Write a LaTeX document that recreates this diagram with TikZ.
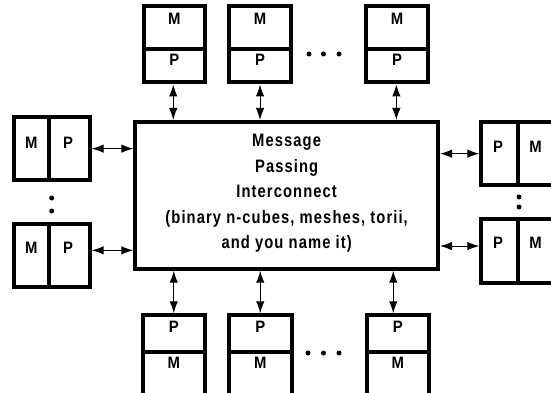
\documentclass[tikz,border=0pt]{standalone}
\usepackage{fontspec}
\newfontfamily\diagfont{Liberation Sans}[FakeStretch=0.82,LetterSpace=6]
\newfontfamily\boxfont{Liberation Sans}[FakeStretch=0.9]
\usetikzlibrary{arrows.meta}
\begin{document}
\begin{tikzpicture}[x=1pt,y=-1pt,
  sec/.style={draw, line width=4pt, inner sep=0pt},
  lbl/.style={anchor=base, inner sep=0pt, font=\boxfont\bfseries\fontsize{16.5}{18}\selectfont},
  bigtxt/.style={align=center, inner sep=0pt, font=\diagfont\bfseries\fontsize{18}{25.5}\selectfont},
  conn/.style={line width=1.1pt, {Latex[length=12pt,width=8.5pt]}-{Latex[length=12pt,width=8.5pt]}},
  dot/.style={fill=black}]
\useasboundingbox (0,0) rectangle (551,393);
\clip (0,0) rectangle (551,393);

% central interconnect
\node[sec, minimum width=302.7, minimum height=146.7] (cb) at (286.65,195.35) {};
\node[bigtxt] (cbt) at (286.65,193.4) {Message\\Passing\\Interconnect\\(binary n-cubes, meshes, torii,\\and you name it)};

% top boxes
\node[sec, minimum width=61.5, minimum height=43] (t1m) at (174.25,27.5) {};
\node[sec, minimum width=61.5, minimum height=33.5] (t1p) at (174.25,65.75) {};
\node[sec, minimum width=61.5, minimum height=43] (t2m) at (260.05,27.5) {};
\node[sec, minimum width=61.5, minimum height=33.5] (t2p) at (260.05,65.75) {};
\node[sec, minimum width=61.5, minimum height=43] (t3m) at (397.05,27.5) {};
\node[sec, minimum width=61.5, minimum height=33.5] (t3p) at (397.05,65.75) {};
\node[lbl] (t1mt) at (174.25,25) {M};
\node[lbl] (t1pt) at (174.25,66) {P};
\node[lbl] (t2mt) at (260.05,25) {M};
\node[lbl] (t2pt) at (260.05,66) {P};
\node[lbl] (t3mt) at (397.05,25) {M};
\node[lbl] (t3pt) at (397.05,66) {P};

% bottom boxes
\node[sec, minimum width=62.5, minimum height=36.4] (b1p) at (173.75,333.5) {};
\node[sec, minimum width=62.5, minimum height=43] (b1m) at (173.75,373.2) {};
\node[sec, minimum width=62.5, minimum height=36.4] (b2p) at (260.25,333.5) {};
\node[sec, minimum width=62.5, minimum height=43] (b2m) at (260.25,373.2) {};
\node[sec, minimum width=62.5, minimum height=36.4] (b3p) at (397.75,333.5) {};
\node[sec, minimum width=62.5, minimum height=43] (b3m) at (397.75,373.2) {};
\node[lbl] (b1pt) at (173.75,332.2) {P};
\node[lbl] (b1mt) at (173.75,368.8) {M};
\node[lbl] (b2pt) at (260.25,332.2) {P};
\node[lbl] (b2mt) at (260.25,368.8) {M};
\node[lbl] (b3pt) at (397.75,332.2) {P};
\node[lbl] (b3mt) at (397.75,368.8) {M};

% left boxes
\node[sec, minimum width=35, minimum height=63.3] (l1m) at (31.2,148.65) {};
\node[sec, minimum width=41, minimum height=63.3] (l1p) at (69.2,148.65) {};
\node[sec, minimum width=35, minimum height=63.3] (l2m) at (31.2,255.35) {};
\node[sec, minimum width=41, minimum height=63.3] (l2p) at (69.2,255.35) {};
\node[lbl] (l1mt) at (31.2,148.5) {M};
\node[lbl] (l1pt) at (68.2,148.5) {P};
\node[lbl] (l2mt) at (31.2,253.5) {M};
\node[lbl] (l2pt) at (68.2,253.5) {P};

% right boxes
\node[sec, minimum width=36.2, minimum height=63.3] (r1p) at (499.4,153.65) {};
\node[sec, minimum width=39.8, minimum height=63.3] (r1m) at (537.4,153.65) {};
\node[sec, minimum width=36.2, minimum height=64.3] (r2p) at (499.4,250.85) {};
\node[sec, minimum width=39.8, minimum height=64.3] (r2m) at (537.4,250.85) {};
\node[lbl] (r1pt) at (498,152.5) {P};
\node[lbl] (r1mt) at (535.5,152.5) {M};
\node[lbl] (r2pt) at (498,248) {P};
\node[lbl] (r2mt) at (535.5,248) {M};

% dots
\fill[dot] (309,54) circle[radius=2.5pt] (323.5,54) circle[radius=2.5pt] (339,54) circle[radius=2.5pt];
\fill[dot] (308,353) circle[radius=2.5pt] (323.5,353) circle[radius=2.5pt] (339,353) circle[radius=2.5pt];
\fill[dot] (51.7,198) circle[radius=2.5pt] (51.7,211) circle[radius=2.5pt];
\fill[dot] (519,197) circle[radius=2.5pt] (519,207) circle[radius=2.5pt];

% connectors
\draw[conn] ([xshift=-1pt]t1p.south) -- ([xshift=-1pt]t1p.south |- cb.north);
\draw[conn] (t2p.south) -- (t2p.south |- cb.north);
\draw[conn] ([xshift=-0.7pt]t3p.south) -- ([xshift=-0.7pt]t3p.south |- cb.north);
\coordinate (bc1) at (b1p.north);
\coordinate (bc3) at ([xshift=-4.5pt]b3p.north);
\draw[conn] (bc1 |- cb.south) -- (b1p.north);
\draw[conn] (b2p.north |- cb.south) -- (b2p.north);
\draw[conn] (bc3 |- cb.south) -- (bc3);
\draw[conn] (l1p.east) -- (l1p.east -| cb.west);
\coordinate (lc2) at ([yshift=5pt]l2p.east);
\draw[conn] (lc2) -- (lc2 -| cb.west);
\draw[conn] (r1p.west -| cb.east) -- (r1p.west);
\coordinate (rc2) at ([yshift=4.8pt]r2p.west);
\draw[conn] (rc2 -| cb.east) -- (rc2);
\end{tikzpicture}
\end{document}
